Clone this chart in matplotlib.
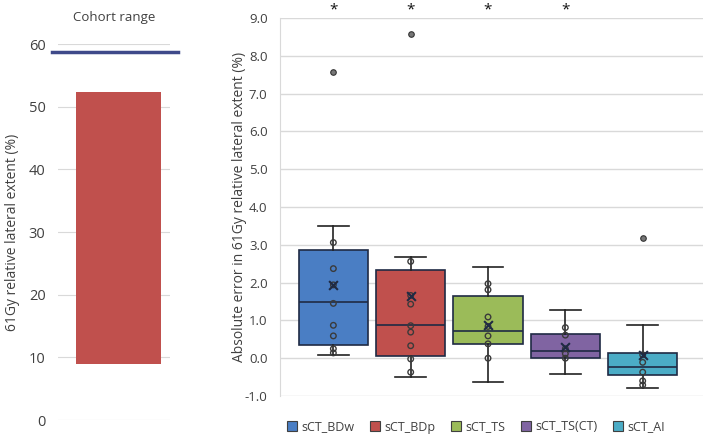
import matplotlib.pyplot as plt

plt.rcParams["font.family"] = ["Open Sans", "DejaVu Sans"]

# left panel: cohort range
cohort_low = 9.0
cohort_high = 52.4
cohort_line = 58.7

# right panel: box plot statistics
methods = ["sCT_BDw", "sCT_BDp", "sCT_TS", "sCT_TS(CT)", "sCT_AI"]
colors = ["#4A7EC4", "#C0504D", "#9BBB59", "#8064A2", "#4BACC6"]
q1 = [0.34, 0.07, 0.38, 0.00, -0.44]
med = [1.50, 0.89, 0.72, 0.19, -0.22]
q3 = [2.87, 2.33, 1.64, 0.63, 0.13]
wlo = [0.08, -0.50, -0.64, -0.42, -0.79]
whi = [3.51, 2.69, 2.42, 1.28, 0.89]
means = [1.94, 1.64, 0.87, 0.29, 0.09]
outliers = [[7.56], [8.58], [], [], [3.18]]
points = [
    [3.06, 2.37, 1.94, 1.45, 0.87, 0.59, 0.25, 0.14],
    [2.56, 1.66, 1.43, 0.86, 0.69, 0.33, -0.02, -0.37],
    [1.97, 1.81, 1.09, 0.84, 0.59, 0.38, 0.00],
    [0.81, 0.61, 0.25, 0.12, 0.00],
    [0.09, -0.11, -0.37, -0.60, -0.71],
]
significant = [True, True, True, True, False]

fig = plt.figure(figsize=(7.04, 4.38), dpi=100)

grid_c = "#D9D9D9"
txt_c = "#404040"

# ---- left panel
ax1 = fig.add_axes([58 / 704, 18 / 438, 112 / 704, 376 / 438])
ax1.bar([0.04], [cohort_high - cohort_low], bottom=cohort_low, width=0.76,
        color="#C0504D", zorder=2)
ax1.plot([-0.55, 0.57], [cohort_line, cohort_line], color="#3F4A8A", lw=2.5,
         clip_on=False, zorder=3)
ax1.set_xlim(-0.5, 0.5)
ax1.set_ylim(0, 60)
ax1.set_yticks(range(0, 61, 10))
ax1.set_xticks([])
ax1.yaxis.grid(True, color=grid_c, lw=0.8, zorder=0)
ax1.set_axisbelow(True)
for s in ax1.spines.values():
    s.set_visible(False)
ax1.tick_params(axis="y", length=0, labelsize=10.5, labelcolor=txt_c, pad=9)
ax1.set_ylabel("61Gy relative lateral extent (%)", fontsize=10, color=txt_c)
ax1.yaxis.set_label_coords((20 - 58) / 112, 0.5)
fig.text(114 / 704, 1 - 17 / 438, "Cohort range", ha="center", va="center",
         fontsize=9.5, color=txt_c)

# ---- right panel
ax2 = fig.add_axes([280 / 704, 42 / 438, 423 / 704, 378 / 438])
stats = []
for i in range(len(methods)):
    stats.append({"label": methods[i], "q1": q1[i], "med": med[i], "q3": q3[i],
                  "whislo": wlo[i], "whishi": whi[i], "fliers": outliers[i]})
pos = list(range(len(methods)))
bp = ax2.bxp(stats, positions=pos, widths=0.9, patch_artist=True,
             showfliers=True,
             boxprops=dict(edgecolor="#1F2A44", lw=1.2),
             medianprops=dict(color="#1F2A44", lw=1.2),
             whiskerprops=dict(color="#222222", lw=1.2),
             capprops=dict(color="#222222", lw=1.2),
             capwidths=0.4,
             flierprops=dict(marker="o", markersize=4, markerfacecolor="#777777",
                             markeredgecolor="#333333", markeredgewidth=0.8))
for patch, c in zip(bp["boxes"], colors):
    patch.set_facecolor(c)
    patch.set_zorder(2)

for i, pts in enumerate(points):
    ax2.scatter([pos[i]] * len(pts), pts, s=16, facecolors="none",
                edgecolors="#3A3A3A", linewidths=1.0, zorder=4)
ax2.scatter(pos, means, marker="x", s=40, color="#1F2A44", linewidths=1.5, zorder=5)

for i, sig in enumerate(significant):
    if sig:
        ax2.text(pos[i], 9.2, "*", ha="center", va="center", fontsize=11,
                 color="#111111", clip_on=False)

ax2.set_xlim(-0.69, 4.78)
ax2.set_ylim(-1, 9)
ax2.set_yticks([v for v in range(-1, 10)])
ax2.set_yticklabels([f"{v:.1f}" for v in range(-1, 10)])
ax2.set_xticks([])
ax2.yaxis.grid(True, color=grid_c, lw=1.0, zorder=0)
ax2.set_axisbelow(True)
for k in ["top", "right", "bottom"]:
    ax2.spines[k].set_visible(False)
ax2.spines["left"].set_color(grid_c)
ax2.tick_params(axis="y", length=0, labelsize=9.5, labelcolor=txt_c, pad=9)
ax2.set_ylabel("Absolute error in 61Gy relative lateral extent (%)", fontsize=10,
               color=txt_c)
ax2.yaxis.set_label_coords((247 - 280) / 423, 0.5)

handles = [plt.Rectangle((0, 0), 1, 1, facecolor=c, edgecolor="#404040", lw=0.8)
           for c in colors]
fig.legend(handles, methods, loc="center", bbox_to_anchor=(476 / 704, 1 - 427 / 438),
           ncol=5, frameon=False, fontsize=9, handlelength=0.8, handleheight=0.8,
           handletextpad=0.4, columnspacing=1.2, labelcolor=txt_c)

fig.savefig("out.png", dpi=100)
